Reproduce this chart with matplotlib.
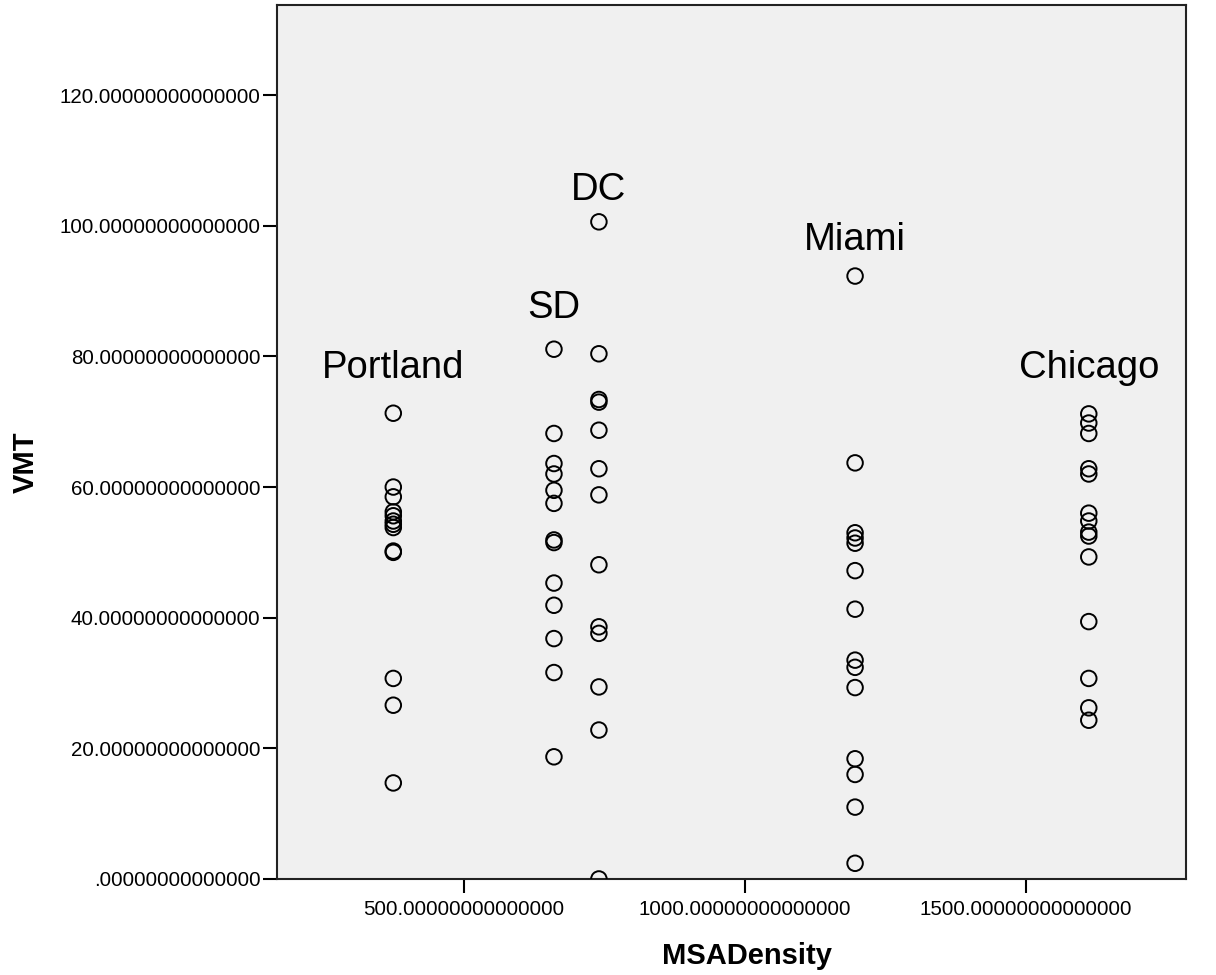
import matplotlib.pyplot as plt
from matplotlib.ticker import FuncFormatter

# MSADensity per city and the VMT values
cities = ['Portland', 'SD', 'DC', 'Miami', 'Chicago']
density = [374, 660, 740, 1196, 1612]

vmt_portland = [71.3, 60.0, 58.5, 56.2, 55.6, 54.8, 54.3, 53.8, 50.2, 50.0, 30.7, 26.6, 14.7]
vmt_sd = [81.1, 68.2, 63.6, 62.0, 59.5, 57.5, 51.9, 51.5, 45.3, 41.9, 36.8, 31.6, 18.7]
vmt_dc = [100.6, 80.4, 73.4, 73.0, 68.7, 62.8, 58.8, 48.1, 38.6, 37.6, 29.4, 22.8, 0.0]
vmt_miami = [92.3, 63.7, 53.0, 52.2, 51.4, 47.2, 41.3, 33.5, 32.4, 29.3, 18.4, 16.0, 11.0, 2.4]
vmt_chicago = [71.2, 69.8, 68.2, 62.8, 62.0, 56.0, 54.8, 53.1, 52.5, 49.3, 39.4, 30.7, 26.2, 24.3]

vmt = [vmt_portland, vmt_sd, vmt_dc, vmt_miami, vmt_chicago]

# where each city name sits (y in VMT units)
label_y = [78.2, 87.4, 105.5, 97.8, 78.2]

x_ticks = [500, 1000, 1500]
y_ticks = [0, 20, 40, 60, 80, 100, 120]

plt.rcParams['font.family'] = ['Liberation Sans', 'DejaVu Sans']

fig = plt.figure(figsize=(12.16, 9.75), dpi=100)
ax = fig.add_axes([0.2278, 0.0985, 0.7475, 0.8964])
ax.set_facecolor('#f0f0f0')

for d, vals in zip(density, vmt):
    ax.scatter([d] * len(vals), vals, s=125, facecolors='none',
               edgecolors='black', linewidths=1.4, zorder=3)

for name, d, ly in zip(cities, density, label_y):
    ax.text(d, ly, name, fontsize=27.5, ha='center', va='center', color='black')

ax.set_xlim(167, 1785)
ax.set_ylim(0, 133.8)
ax.set_xticks(x_ticks)
ax.set_yticks(y_ticks)


def fmt(v, pos):
    s = f'{v:.14f}'
    if s.startswith('0.'):
        s = s[1:]
    return s


ax.xaxis.set_major_formatter(FuncFormatter(fmt))
ax.yaxis.set_major_formatter(FuncFormatter(fmt))
ax.tick_params(axis='both', direction='out', length=10, width=1.5, labelsize=14.8, color='black')
ax.tick_params(axis='y', pad=2)
ax.tick_params(axis='x', pad=5)

for sp in ax.spines.values():
    sp.set_linewidth(1.5)
    sp.set_color('#222222')

ax.set_xlabel('MSADensity', fontsize=21, fontweight='bold', labelpad=17, x=0.517)
ax.set_ylabel('VMT', fontsize=21, fontweight='bold', labelpad=14, y=0.477)

fig.savefig('out.png', dpi=100)
